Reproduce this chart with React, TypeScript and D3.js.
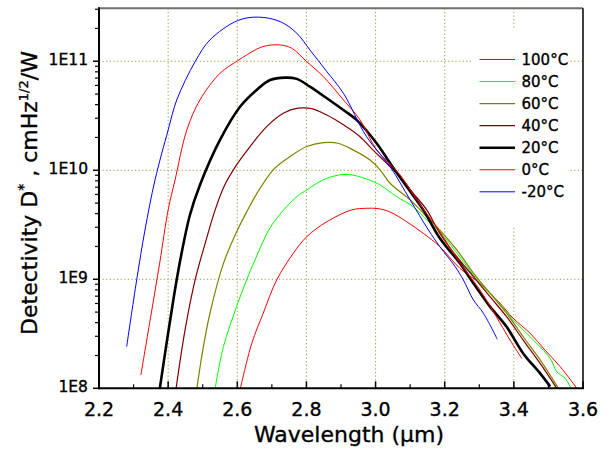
import React from "react";
import * as d3 from "d3";

// ---- data ----
const xTicks = [2.2, 2.4, 2.6, 2.8, 3.0, 3.2, 3.4, 3.6];
const xMinorTicks = [2.3, 2.5, 2.7, 2.9, 3.1, 3.3, 3.5];
const yTicks = [1e8, 1e9, 1e10, 1e11];
const yTickLabels = ["1E8", "1E9", "1E10", "1E11"];

const seriesNames = ["100°C", "80°C", "60°C", "40°C", "20°C", "0°C", "-20°C"];
const seriesColors = ["#ff0000", "#00ff00", "#808000", "#800000", "#000000", "#ff0000", "#0000ff"];
const seriesWidths = [1, 1, 1.2, 1.2, 2.6, 1, 1];

const wl100 = [2.609, 2.642, 2.675, 2.714, 2.762, 2.801, 2.859, 2.931, 2.974, 3.007, 3.042, 3.090, 3.138, 3.186, 3.244, 3.302, 3.360, 3.398, 3.447, 3.490, 3.534, 3.582];
const d100 = [1.0e8, 2.59e8, 4.88e8, 9.86e8, 1.73e9, 2.46e9, 3.37e9, 4.33e9, 4.48e9, 4.45e9, 4.14e9, 3.37e9, 2.64e9, 1.99e9, 1.26e9, 9.18e8, 6.03e8, 4.39e8, 3.2e8, 2.24e8, 1.58e8, 1.0e8];

const wl80 = [2.536, 2.560, 2.598, 2.627, 2.651, 2.700, 2.772, 2.801, 2.830, 2.868, 2.917, 2.974, 3.013, 3.061, 3.109, 3.148, 3.186, 3.244, 3.302, 3.350, 3.398, 3.447, 3.505, 3.524, 3.548, 3.567];
const d80 = [1.0e8, 2.41e8, 5.61e8, 9.86e8, 1.5e9, 3.15e9, 5.73e9, 6.59e9, 7.6e9, 8.63e9, 9.18e9, 8.32e9, 7.33e9, 5.73e9, 4.63e9, 3.5e9, 2.72e9, 1.6e9, 9.18e8, 6.46e8, 4.24e8, 2.97e8, 1.88e8, 1.42e8, 1.24e8, 9.77e7];

const wl60 = [2.483, 2.502, 2.521, 2.560, 2.598, 2.627, 2.656, 2.704, 2.752, 2.801, 2.849, 2.891, 2.936, 2.984, 3.013, 3.042, 3.100, 3.148, 3.186, 3.235, 3.283, 3.331, 3.379, 3.427, 3.476, 3.514, 3.529];
const d60 = [1.0e8, 2.41e8, 4.88e8, 1.4e9, 2.72e9, 4.14e9, 6.07e9, 1.01e10, 1.33e10, 1.65e10, 1.79e10, 1.77e10, 1.53e10, 1.24e10, 1.01e10, 7.6e9, 5.35e9, 3.75e9, 2.83e9, 1.86e9, 1.14e9, 7.45e8, 4.88e8, 2.97e8, 1.82e8, 1.19e8, 1.0e8];

const wl40 = [2.423, 2.449, 2.478, 2.510, 2.536, 2.564, 2.598, 2.637, 2.685, 2.733, 2.776, 2.815, 2.859, 2.907, 2.955, 2.993, 3.032, 3.071, 3.109, 3.148, 3.186, 3.235, 3.283, 3.331, 3.379, 3.427, 3.476, 3.524];
const d40 = [1.0e8, 3.43e8, 9.86e8, 2.3e9, 4.33e9, 7.35e9, 1.12e10, 1.65e10, 2.51e10, 3.33e10, 3.71e10, 3.67e10, 3.21e10, 2.61e10, 2.03e10, 1.53e10, 1.16e10, 8.73e9, 6.15e9, 4.33e9, 2.64e9, 1.61e9, 1.06e9, 6.92e8, 4.54e8, 2.77e8, 1.69e8, 1.0e8];

const wl20 = [2.376, 2.396, 2.415, 2.434, 2.463, 2.492, 2.550, 2.608, 2.656, 2.695, 2.738, 2.772, 2.810, 2.859, 2.907, 2.945, 3.003, 3.042, 3.090, 3.138, 3.186, 3.244, 3.283, 3.331, 3.379, 3.427, 3.476, 3.505];
const d20 = [1.0e8, 2.66e8, 6.46e8, 1.44e9, 3.89e9, 7.33e9, 1.9e10, 3.83e10, 5.46e10, 6.73e10, 7.08e10, 6.89e10, 5.85e10, 4.58e10, 3.57e10, 2.9e10, 1.77e10, 1.16e10, 7.08e9, 4.33e9, 2.38e9, 1.4e9, 9.18e8, 5.61e8, 3.67e8, 2.09e8, 1.37e8, 1.04e8];

const wl0 = [2.321, 2.348, 2.376, 2.400, 2.420, 2.454, 2.492, 2.550, 2.601, 2.656, 2.685, 2.724, 2.757, 2.801, 2.849, 2.907, 2.955, 3.003, 3.071, 3.119, 3.186, 3.244, 3.302, 3.360, 3.389, 3.423];
const d0 = [1.32e8, 4.24e8, 1.44e9, 4.33e9, 8.15e9, 2.34e10, 4.42e10, 7.76e10, 1.01e11, 1.29e11, 1.39e11, 1.41e11, 1.32e11, 9.91e10, 7.23e10, 4.42e10, 2.9e10, 1.54e10, 9.06e9, 5.35e9, 2.72e9, 1.41e9, 7.98e8, 3.97e8, 2.77e8, 1.88e8];

const wlm20 = [2.280, 2.309, 2.333, 2.362, 2.400, 2.425, 2.478, 2.521, 2.601, 2.661, 2.724, 2.772, 2.810, 2.859, 2.907, 2.974, 3.042, 3.100, 3.153, 3.186, 3.230, 3.254, 3.283, 3.312, 3.352];
const dm20 = [2.41e8, 9.86e8, 2.83e9, 8.15e9, 2.34e10, 4.42e10, 9.91e10, 1.57e11, 2.36e11, 2.54e11, 2.31e11, 1.81e11, 1.27e11, 8.04e10, 5.08e10, 2.03e10, 1.08e10, 5.35e9, 2.83e9, 1.99e9, 1.31e9, 9.86e8, 6.46e8, 4.88e8, 2.82e8];

const seriesWl = [wl100, wl80, wl60, wl40, wl20, wl0, wlm20];
const seriesD = [d100, d80, d60, d40, d20, d0, dm20];

// ---- layout ----
const W = 614;
const H = 450;
const L = 99;
const R = 583;
const T = 8.3;
const B = 388.3;
const FONT = "'DejaVu Sans', sans-serif";
const GRID = "#9a9a3a";

export default function App() {
  const x = d3.scaleLinear().domain([2.2, 3.6]).range([L, R]);
  const y = d3.scaleLog().domain([1e8, 3.06e11]).range([B, T]);

  const line = d3
    .line<[number, number]>()
    .x((d) => x(d[0]))
    .y((d) => y(d[1]))
    .curve(d3.curveCatmullRom.alpha(0.5));

  const minorY: number[] = [];
  for (let e = 8; e <= 11; e++) {
    for (let m = 2; m <= 9; m++) {
      const v = m * Math.pow(10, e);
      if (v <= 3.06e11) minorY.push(v);
    }
  }

  const legendX = 472;
  const legendW = 96;
  const legendTop = 28;
  const legendBottom = 226;
  const rowY = (i: number) => 59.5 + i * 22.05;

  const textStyle = { stroke: "#000", strokeWidth: 0.35 } as React.CSSProperties;

  return (
    <svg
      width={W}
      height={H}
      style={{ position: "absolute", left: 0, top: 0, background: "#fff" }}
      fontFamily={FONT}
    >
      <defs>
        <clipPath id="plot">
          <rect x={L} y={T} width={R - L} height={B - T} />
        </clipPath>
      </defs>
      <rect x={0} y={0} width={W} height={H} fill="#fff" />

      {/* grid */}
      {xTicks.slice(1, -1).map((t) => (
        <line key={"gx" + t} x1={x(t)} x2={x(t)} y1={T} y2={B} stroke={GRID} strokeWidth={1} strokeDasharray="1.2,2.4" />
      ))}
      {yTicks.slice(1).map((t) => (
        <line key={"gy" + t} x1={L} x2={R} y1={y(t)} y2={y(t)} stroke={GRID} strokeWidth={1} strokeDasharray="1.2,2.4" />
      ))}

      {/* legend background */}
      <rect x={legendX} y={legendTop} width={legendW} height={legendBottom - legendTop} fill="#fff" />

      {/* curves */}
      <g clipPath="url(#plot)">
        {seriesWl.map((wl, i) => {
          const pts = wl.map((w, j) => [w, seriesD[i][j]] as [number, number]);
          return (
            <path
              key={"s" + i}
              d={line(pts) || ""}
              fill="none"
              stroke={seriesColors[i]}
              strokeWidth={seriesWidths[i]}
              strokeLinejoin="round"
            />
          );
        })}
      </g>

      {/* frame */}
      <line x1={L} x2={R} y1={T} y2={T} stroke="#707070" strokeWidth={2} />
      <line x1={R} x2={R} y1={T} y2={B} stroke="#000" strokeWidth={1.5} />
      <line x1={L} x2={L} y1={T - 1} y2={B + 1} stroke="#000" strokeWidth={2} />
      <line x1={L - 1} x2={R + 1} y1={B} y2={B} stroke="#000" strokeWidth={2} />

      {/* x ticks */}
      {xTicks.map((t) => (
        <line key={"xt" + t} x1={x(t)} x2={x(t)} y1={B} y2={B - 7} stroke="#000" strokeWidth={1.5} />
      ))}
      {xMinorTicks.map((t) => (
        <line key={"xm" + t} x1={x(t)} x2={x(t)} y1={B} y2={B - 4} stroke="#000" strokeWidth={1.2} />
      ))}
      {xTicks.map((t) => (
        <text key={"xl" + t} x={x(t)} y={415.5} fontSize={19} textAnchor="middle" fill="#000" style={textStyle}>
          {t.toFixed(1)}
        </text>
      ))}

      {/* y ticks */}
      {yTicks.map((t, i) => (
        <g key={"yt" + t}>
          <line x1={L} x2={L - 6} y1={y(t)} y2={y(t)} stroke="#000" strokeWidth={1.5} />
          <text x={L - 11} y={y(t) + 4} fontSize={15.5} textAnchor="end" fill="#000" style={textStyle}>
            {yTickLabels[i]}
          </text>
        </g>
      ))}
      {minorY.map((t) => (
        <line key={"ym" + t} x1={L} x2={L - 4} y1={y(t)} y2={y(t)} stroke="#000" strokeWidth={1.2} />
      ))}

      {/* axis titles */}
      <text x={(L + R) / 2 + 8} y={442} fontSize={22} textAnchor="middle" fill="#000" style={textStyle}>
        Wavelength (μm)
      </text>
      <text
        transform="translate(37,193) rotate(-90)"
        fontSize={22}
        textAnchor="middle"
        fill="#000"
        style={textStyle}
      >
        Detectivity D
        <tspan fontSize={14} dy={-9}>*</tspan>
        <tspan dy={9}> , cmHz</tspan>
        <tspan fontSize={13} dy={-9}>1/2</tspan>
        <tspan dy={9}>/W</tspan>
      </text>

      {/* legend */}
      {seriesNames.map((n, i) => (
        <g key={"lg" + i}>
          <line
            x1={479.5}
            x2={515}
            y1={rowY(i)}
            y2={rowY(i)}
            stroke={seriesColors[i]}
            strokeWidth={seriesWidths[i] === 1 ? 1 : seriesWidths[i]}
          />
          <text x={521.5} y={rowY(i) + 5.5} fontSize={15} fill="#000" style={textStyle}>
            {n}
          </text>
        </g>
      ))}
    </svg>
  );
}
